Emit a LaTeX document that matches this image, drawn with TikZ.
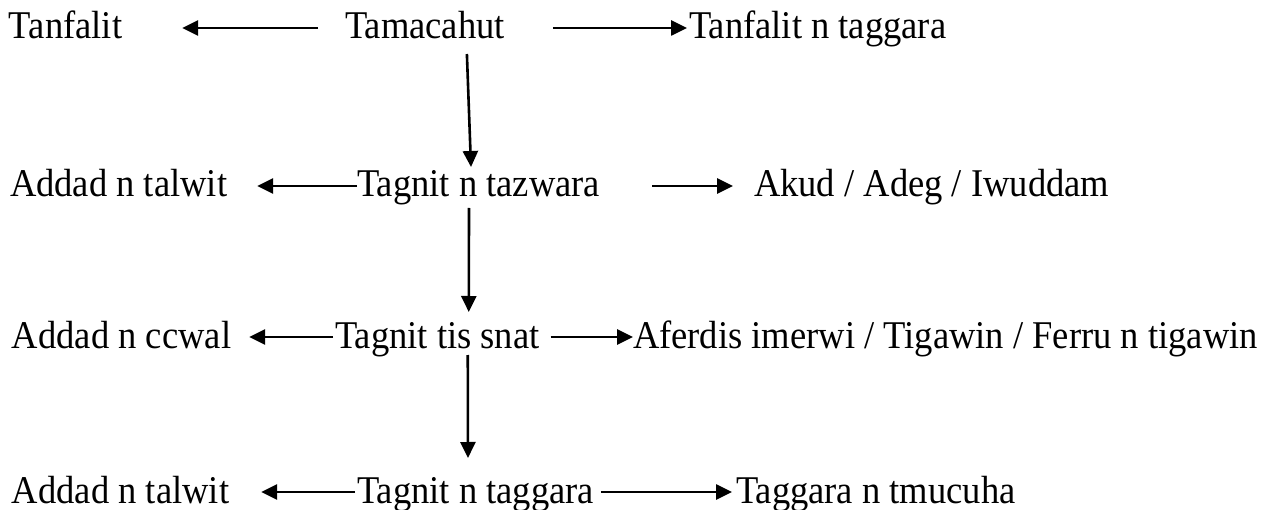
\documentclass[tikz,border=0pt]{standalone}
\usepackage{fontspec}
\setmainfont{Liberation Serif}[FakeStretch=0.93]
\usetikzlibrary{arrows.meta}
\begin{document}
\begin{tikzpicture}[x=1pt,y=-1pt,
  lbl/.style={anchor=base west, inner sep=0pt, outer sep=0pt,
    text height=28pt, text depth=6pt, font=\fontsize{39.3pt}{43pt}\selectfont},
  arr/.style={line width=2.6pt, -{Triangle[length=16pt,width=15pt]}}]
\useasboundingbox (0,0) rectangle (1281,510);
% row 1
\node[lbl] (tanf) at (9,39) {Tanfalit};
\node[lbl] (tam) at (345,39) {Tamacahut};
\node[lbl] (tnt) at (689,39) {Tanfalit n taggara};
% row 2
\node[lbl] (add1) at (10,197) {Addad n talwit};
\node[lbl] (taz) at (357,197) {Tagnit n tazwara};
\node[lbl] (akud) at (754,197) {Akud / Adeg / Iwuddam};
% row 3
\node[lbl] (ccw) at (12,348) {Addad n ccwal};
\node[lbl] (tts) at (335,348) {Tagnit tis snat};
\node[lbl] (afer) at (633,348) {Aferdis imerwi / Tigawin / Ferru n tigawin};
% row 4
\node[lbl] (add2) at (12,503) {Addad n talwit};
\node[lbl] (tgt) at (357,503) {Tagnit n taggara};
\node[lbl] (tmu) at (736,503) {Taggara n tmucuha};
% horizontal arrows
\draw[arr, shorten <=27pt, shorten >=60pt] (tam.west) -- (tanf.east);
\draw[arr, shorten <=48pt, shorten >=2pt] (tam.east) -- (tnt.west);
\draw[arr, shorten <=0pt, shorten >=30pt] (taz.west) -- (add1.east);
\draw[arr, shorten <=52pt, shorten >=21pt] (taz.east) -- (akud.west);
\draw[arr, shorten <=2pt, shorten >=18pt] (tts.west) -- (ccw.east);
\draw[arr, shorten <=11pt, shorten >=0pt] (tts.east) -- (afer.west);
\draw[arr, shorten <=2pt, shorten >=32pt] (tgt.west) -- (add2.east);
\draw[arr, shorten <=7pt, shorten >=4pt] (tgt.east) -- (tmu.west);
% vertical arrows
\draw[arr] ([xshift=42pt,yshift=-9pt]tam.south) -- ([xshift=-7.5pt,yshift=2pt]taz.north);
\draw[arr] ([xshift=-9.5pt,yshift=-5pt]taz.south) -- ([xshift=31.5pt,yshift=8pt]tts.north);
\draw[arr] ([xshift=30.5pt,yshift=-1pt]tts.south) -- ([xshift=-7.5pt,yshift=17pt]tgt.north);
\end{tikzpicture}
\end{document}
